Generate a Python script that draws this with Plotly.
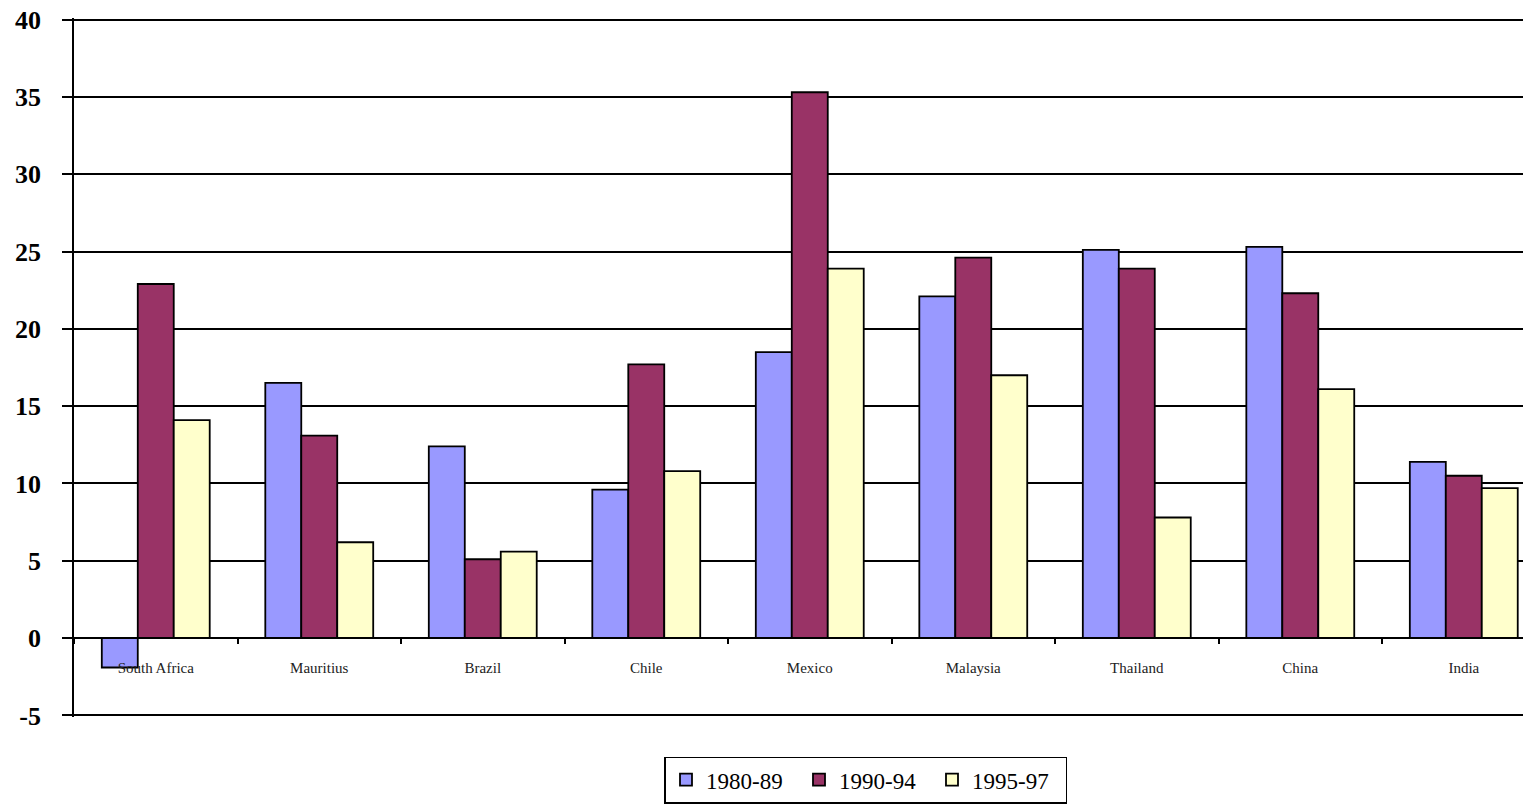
import plotly.graph_objects as go

# countries on the x axis
countries = ['South Africa', 'Mauritius', 'Brazil', 'Chile', 'Mexico',
             'Malaysia', 'Thailand', 'China', 'India']

# values
p1980_89 = [-1.9, 16.5, 12.4, 9.6, 18.5, 22.1, 25.1, 25.3, 11.4]
p1990_94 = [22.9, 13.1, 5.1, 17.7, 35.3, 24.6, 23.9, 22.3, 10.5]
p1995_97 = [14.1, 6.2, 5.6, 10.8, 23.9, 17.0, 7.8, 16.1, 9.7]

series_names = ['1980-89', '1990-94', '1995-97']
series_colors = ['#9999FF', '#993366', '#FFFFCC']

y_ticks = [-5, 0, 5, 10, 15, 20, 25, 30, 35, 40]
y_labels = [str(v) for v in y_ticks]  # plain hyphen for -5

fig = go.Figure()
for name, vals, col in zip(series_names, [p1980_89, p1990_94, p1995_97], series_colors):
    fig.add_trace(go.Bar(
        x=countries, y=vals, name=name,
        marker=dict(color=col, line=dict(color='black', width=1.8)),
    ))

# small pad so the 40 and -5 grid lines are still drawn
y_range = [-5.1, 40.1]

fig.update_layout(
    width=1531, height=804,
    barmode='group', bargap=0.34, bargroupgap=0,
    plot_bgcolor='white', paper_bgcolor='white',
    margin=dict(l=66, r=0, t=10.46, b=95.44, autoexpand=False),
    showlegend=True,
    legend=dict(
        orientation='h', x=0.403, xanchor='left', y=-0.0566, yanchor='top',
        bordercolor='black', borderwidth=1.6, bgcolor='white',
        font=dict(family='Liberation Serif', size=23, color='black'),
        entrywidth=88, traceorder='normal',
    ),
)

fig.update_xaxes(
    type='category', range=[-0.5, 8.46],
    anchor='free', position=(0 - y_range[0]) / (y_range[1] - y_range[0]),
    showline=True, linecolor='black', linewidth=1.6,
    ticks='outside', ticklen=5, tickwidth=1.6, tickcolor='black',
    tickson='boundaries', showgrid=False,
    tickfont=dict(family='Liberation Serif', size=15, color='#222222'),
    ticklabelstandoff=16,
)

fig.update_yaxes(
    range=y_range, tickvals=y_ticks, ticktext=y_labels,
    showline=True, linecolor='black', linewidth=1.6,
    showgrid=True, gridcolor='black', gridwidth=1.6,
    zeroline=True, zerolinecolor='black', zerolinewidth=1.6,
    ticks='outside', ticklen=10, tickwidth=1.6, tickcolor='black',
    tickfont=dict(family='Liberation Serif', size=26, color='black', weight='bold'),
    ticklabelstandoff=16, ticklabeloverflow='allow',
)

fig.write_html("out.html")
